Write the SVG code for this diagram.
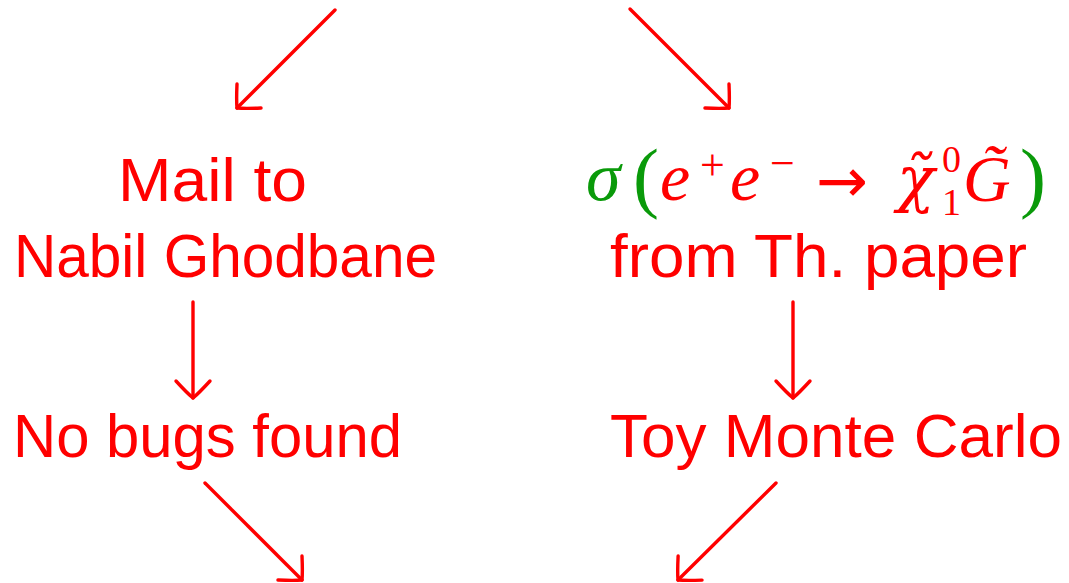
<svg xmlns="http://www.w3.org/2000/svg" width="1069" height="583" viewBox="0 0 1069 583">
<defs>
<marker id="ah" viewBox="-22 -20 26 40" refX="0" refY="0" markerWidth="26" markerHeight="40" markerUnits="userSpaceOnUse" orient="auto">
<path d="M -17,-17 Q -5,-6 0,0 Q -5,6 -17,17" fill="none" stroke="#ff0000" stroke-width="3.4" stroke-linecap="round" stroke-linejoin="round"/>
</marker>
<style>
.t{font-family:"Liberation Sans","Arial",sans-serif;font-size:62px;fill:#ff0000}
.f{font-family:"Liberation Serif","Times New Roman",serif;font-size:64px;fill:#ff0000}
.i{font-style:italic}
.d{font-family:"DejaVu Serif",serif;font-style:italic}
.a{font-family:"DejaVu Sans",sans-serif}
.g{fill:#0a9a0a}
.c{fill:none;stroke:#ff0000;stroke-width:3.4;stroke-linecap:round;marker-end:url(#ah)}
</style>
</defs>
<rect width="1069" height="583" fill="#ffffff"/>
<g id="connectors">
<line class="c" x1="335" y1="10" x2="237" y2="108"/>
<line class="c" x1="630" y1="9" x2="729" y2="108"/>
<line class="c" x1="193" y1="302" x2="193" y2="398"/>
<line class="c" x1="793" y1="302" x2="793" y2="398"/>
<line class="c" x1="205" y1="483" x2="302" y2="580"/>
<line class="c" x1="776" y1="483" x2="678" y2="580"/>
</g>
<g id="node-mail">
<text class="t" x="118" y="201" textLength="189" lengthAdjust="spacingAndGlyphs">Mail to</text>
<text class="t" x="14" y="277" textLength="423" lengthAdjust="spacingAndGlyphs">Nabil Ghodbane</text>
</g>
<g id="node-nobugs">
<text class="t" x="13" y="457" textLength="389" lengthAdjust="spacingAndGlyphs">No bugs found</text>
</g>
<g id="node-sigma">
<text class="f"><tspan class="i g" x="586" y="200" font-size="70">σ</tspan><tspan class="g" x="633" y="203" font-size="78">(</tspan><tspan class="i" x="660" y="200" font-size="68">e</tspan><tspan x="700" y="180" font-size="44">+</tspan><tspan class="i" x="730" y="200" font-size="68">e</tspan><tspan x="770" y="178" font-size="44">−</tspan><tspan class="a" x="816" y="202" font-size="62">→</tspan><tspan class="d" x="897" y="200" font-size="62">χ̃</tspan><tspan x="942" y="172" font-size="38">0</tspan><tspan x="942" y="215" font-size="38">1</tspan><tspan class="i" x="963" y="201" font-size="66">G̃</tspan><tspan class="g" x="1020" y="203" font-size="78">)</tspan></text>
<text class="t" x="610" y="277" textLength="417" lengthAdjust="spacingAndGlyphs">from Th. paper</text>
</g>
<g id="node-toymc">
<text class="t" x="610" y="457" textLength="452" lengthAdjust="spacingAndGlyphs">Toy Monte Carlo</text>
</g>
</svg>
